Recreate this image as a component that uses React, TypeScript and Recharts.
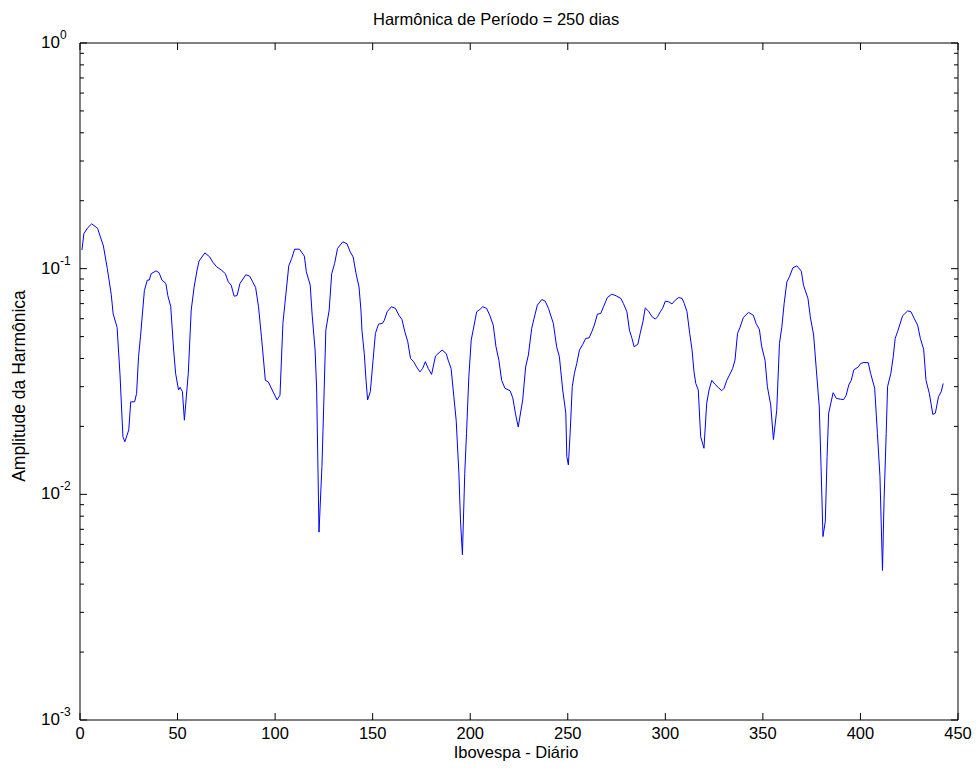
import { LineChart, Line, XAxis, YAxis } from "recharts"

// day index (x) and harmonic amplitude (y)
const dayIndex = [
    1, 2, 4, 6, 9, 12, 14, 16, 17, 19, 20.5, 22, 23, 25, 26, 28, 29, 30, 31, 33,
    34.5, 35.5, 36.5, 39, 40.5, 42, 44, 45, 46.5, 48, 49, 50.5, 51.3, 52.5, 53.5, 55.5, 57, 58.5, 60, 61,
    64, 66.5, 68, 70, 72.5, 74.5, 76, 77.5, 79, 80.5, 82, 85, 87, 88.5, 90, 91.5, 93, 95, 96.5, 98.5,
    101, 102.5, 104, 107, 108.5, 110, 112.5, 115, 116, 118, 119, 120.5, 121.3, 122.5, 124, 125, 126, 127.7, 129, 130.5,
    132, 134.7, 136.8, 138.5, 140, 141.5, 143, 144, 144.5, 145.7, 146.6, 147.4, 148.8, 150.2, 151.4, 153, 155, 156, 157.4, 159.6,
    161.7, 163.4, 165, 166.5, 168, 169.4, 171, 172.5, 174.2, 175.6, 177, 178.5, 180.2, 182.2, 184, 185.6, 187.7, 188.7, 190.2, 191.6,
    192.8, 194.2, 195, 196, 197.2, 198.1, 199.3, 200.5, 202, 203.3, 205, 206.4, 208.4, 210, 211.8, 213.2, 214.7, 216.1, 217.8, 220.4,
    221.8, 223.3, 224.6, 226.9, 228.4, 229.8, 231.5, 232.7, 234.4, 236.7, 238.4, 240.1, 242.6, 244.3, 245.7, 247.4, 249, 249.5, 250.3, 251.2,
    252.3, 253.4, 254.6, 256, 257.7, 259.2, 260.9, 262.3, 263.6, 265.2, 266.9, 268.3, 270.3, 272.6, 274.8, 277.2, 278.5, 280.3, 281.6, 282.9,
    284, 285.9, 287.1, 288.5, 289.7, 291.4, 293.2, 294.9, 296, 297.4, 298.6, 300, 301.7, 303.4, 305.1, 306.8, 308.6, 309.7, 311.1, 312.5,
    313.7, 314.7, 315.6, 316.9, 318.1, 319.8, 321.2, 322.4, 323.8, 325.5, 327.2, 328.9, 330.1, 331.5, 333.1, 334.5, 335.7, 337, 338.3, 340,
    342.6, 345.1, 346.5, 348.2, 349.4, 351.1, 352.3, 354, 355.4, 357.1, 358.5, 359.7, 360.9, 362.3, 363.6, 365.4, 367.4, 369.7, 370.8, 373.1,
    374.3, 376, 377.4, 378.9, 379.8, 380.8, 382, 382.9, 383.7, 386, 387.7, 389.7, 391.4, 392.7, 394, 395.3, 396.6, 398.9, 400.1, 401.8,
    404, 405.2, 407.3, 408.7, 410, 411.3, 412.1, 413.2, 413.9, 415.6, 416.8, 417.8, 419, 421.6, 424.2, 425.9, 427.6, 429.3, 430.7, 432.4,
    433.6, 435.3, 437.1, 438.4, 440, 441.4, 442.4,
]

const amplitude = [
    0.121, 0.143, 0.152, 0.158, 0.151, 0.126, 0.1, 0.077, 0.063, 0.055, 0.034, 0.018, 0.0171, 0.0193, 0.0257, 0.0257, 0.028, 0.0407, 0.0499, 0.08,
    0.089, 0.089, 0.095, 0.0978, 0.096, 0.089, 0.086, 0.076, 0.068, 0.0436, 0.0344, 0.029, 0.0298, 0.0285, 0.0213, 0.0344, 0.0655, 0.083, 0.0985, 0.108,
    0.1175, 0.1127, 0.107, 0.102, 0.0985, 0.095, 0.0874, 0.0845, 0.0755, 0.076, 0.086, 0.094, 0.0926, 0.0874, 0.0826, 0.0678, 0.0499, 0.032, 0.0315, 0.029,
    0.0262, 0.0275, 0.0572, 0.103, 0.111, 0.122, 0.122, 0.1136, 0.0968, 0.0845, 0.0622, 0.0436, 0.029, 0.0068, 0.0133, 0.0262, 0.0534, 0.0655, 0.095, 0.1054,
    0.123, 0.1315, 0.129, 0.1187, 0.1127, 0.095, 0.083, 0.0655, 0.0534, 0.042, 0.032, 0.0262, 0.0285, 0.0393, 0.0516, 0.0568, 0.0572, 0.0591, 0.0644, 0.0678,
    0.0667, 0.0622, 0.0596, 0.0525, 0.0474, 0.04, 0.0387, 0.0367, 0.0349, 0.0361, 0.0387, 0.0361, 0.034, 0.041, 0.0424, 0.0436, 0.042, 0.0393, 0.0361, 0.0271,
    0.0213, 0.0124, 0.0077, 0.0054, 0.0124, 0.0186, 0.0332, 0.0482, 0.0562, 0.0644, 0.066, 0.0678, 0.0667, 0.0622, 0.0562, 0.0451, 0.0393, 0.032, 0.0295, 0.0288,
    0.0268, 0.0225, 0.0199, 0.0262, 0.0367, 0.0414, 0.0543, 0.0601, 0.0689, 0.073, 0.0718, 0.0667, 0.0572, 0.0451, 0.0407, 0.029, 0.0229, 0.0147, 0.0135, 0.0186,
    0.03, 0.0344, 0.038, 0.0436, 0.0462, 0.0491, 0.0493, 0.0525, 0.0562, 0.0629, 0.0633, 0.0678, 0.0745, 0.0771, 0.0758, 0.0738, 0.0701, 0.0644, 0.0534, 0.0491,
    0.0451, 0.0462, 0.0516, 0.0581, 0.067, 0.0648, 0.0612, 0.0598, 0.0612, 0.0644, 0.0667, 0.0718, 0.0713, 0.0698, 0.0725, 0.0745, 0.0738, 0.0701, 0.0644, 0.0516,
    0.0436, 0.0349, 0.031, 0.029, 0.018, 0.016, 0.0253, 0.029, 0.032, 0.0307, 0.0297, 0.0288, 0.0295, 0.032, 0.0341, 0.0361, 0.0393, 0.0516, 0.055, 0.0608,
    0.064, 0.0622, 0.0572, 0.0538, 0.0451, 0.0393, 0.03, 0.0249, 0.0175, 0.0236, 0.0467, 0.055, 0.0701, 0.0874, 0.092, 0.1009, 0.1029, 0.0975, 0.0845, 0.0738,
    0.0612, 0.0508, 0.0356, 0.0244, 0.0133, 0.0065, 0.0076, 0.0147, 0.0229, 0.0282, 0.0266, 0.0264, 0.0263, 0.0275, 0.0305, 0.032, 0.0356, 0.0367, 0.038, 0.0384,
    0.0383, 0.0344, 0.0295, 0.0186, 0.012, 0.0046, 0.0094, 0.0186, 0.03, 0.0344, 0.0407, 0.0491, 0.0525, 0.0618, 0.065, 0.0644, 0.0601, 0.0562, 0.0491, 0.0439,
    0.032, 0.028, 0.0226, 0.0229, 0.0271, 0.0285, 0.031,
]

const xTicks = [0, 50, 100, 150, 200, 250, 300, 350, 400, 450]
const decades = [0.001, 0.01, 0.1]
const yTopValue = 1

const data = dayIndex.map((d, i) => ({ day: d, amp: amplitude[i] }))

// log ticks: every m * 10^k, labels only on the powers of ten
const yTicks: number[] = []
decades.forEach((dec) => {
    for (let m = 1; m <= 9; m++) yTicks.push(Number((m * dec).toPrecision(3)))
})
yTicks.push(yTopValue)

const isMajor = (v: number) => Math.abs(Math.log10(v) - Math.round(Math.log10(v))) < 1e-9

const FONT = "Arial, 'Liberation Sans', sans-serif"

function BottomTick({ x, y, payload }: any) {
    return (
        <g>
            <line x1={x} x2={x} y1={y} y2={y - 7} stroke="#000" />
            <text x={x} y={y + 19} textAnchor="middle" fontSize={16.5} fontFamily={FONT} fill="#000">
                {payload.value}
            </text>
        </g>
    )
}

function TopTick({ x, y }: any) {
    return <line x1={x} x2={x} y1={y} y2={y + 7} stroke="#000" />
}

function LeftTick({ x, y, payload }: any) {
    const major = isMajor(payload.value)
    const exp = Math.round(Math.log10(payload.value))
    return (
        <g>
            <line x1={x} x2={x + (major ? 7 : 4)} y1={y} y2={y} stroke="#000" />
            {major && (
                <text x={x - 39} y={y + 5} fontSize={17} fontFamily={FONT} fill="#000">
                    10
                    <tspan dy={-9} fontSize={12}>{exp}</tspan>
                </text>
            )}
        </g>
    )
}

function RightTick({ x, y, payload }: any) {
    const major = isMajor(payload.value)
    return <line x1={x} x2={x - (major ? 7 : 4)} y1={y} y2={y} stroke="#000" />
}

export default function App() {
    return (
        <div style={{ position: "absolute", left: 0, top: 0, width: 980, height: 773, background: "#fff" }}>
            <LineChart width={980} height={773} data={data} margin={{ top: 0, right: 0, bottom: 0, left: 0 }}>
                <XAxis
                    dataKey="day"
                    type="number"
                    domain={[0, 450]}
                    ticks={xTicks}
                    interval={0}
                    height={53}
                    tickSize={0}
                    tickMargin={0}
                    tickLine={false}
                    tick={BottomTick}
                    axisLine={{ stroke: "#000" }}
                />
                <XAxis
                    xAxisId="top"
                    orientation="top"
                    dataKey="day"
                    type="number"
                    domain={[0, 450]}
                    ticks={xTicks}
                    interval={0}
                    height={43}
                    tickSize={0}
                    tickMargin={0}
                    tickLine={false}
                    tick={TopTick}
                    axisLine={{ stroke: "#000" }}
                />
                <YAxis
                    type="number"
                    scale="log"
                    domain={[0.001, 1]}
                    allowDataOverflow
                    ticks={yTicks}
                    interval={0}
                    width={80}
                    tickSize={0}
                    tickMargin={0}
                    tickLine={false}
                    tick={LeftTick}
                    axisLine={{ stroke: "#000" }}
                />
                <YAxis
                    yAxisId="right"
                    orientation="right"
                    type="number"
                    scale="log"
                    domain={[0.001, 1]}
                    allowDataOverflow
                    ticks={yTicks}
                    interval={0}
                    width={22}
                    tickSize={0}
                    tickMargin={0}
                    tickLine={false}
                    tick={RightTick}
                    axisLine={{ stroke: "#000" }}
                />
                <Line
                    type="linear"
                    dataKey="amp"
                    stroke="#0000ff"
                    strokeWidth={1}
                    dot={false}
                    isAnimationActive={false}
                />
            </LineChart>
            <svg
                width={980}
                height={773}
                style={{ position: "absolute", left: 0, top: 0, pointerEvents: "none" }}
                fontFamily={FONT}
                fill="#000"
            >
                <text x={373} y={25} fontSize={16.5}>Harmônica de Período = 250 dias</text>
                <text x={516} y={758} fontSize={16.5} textAnchor="middle">Ibovespa - Diário</text>
                <text transform="translate(25,386) rotate(-90)" fontSize={17.5} textAnchor="middle">
                    Amplitude da Harmônica
                </text>
            </svg>
        </div>
    )
}
